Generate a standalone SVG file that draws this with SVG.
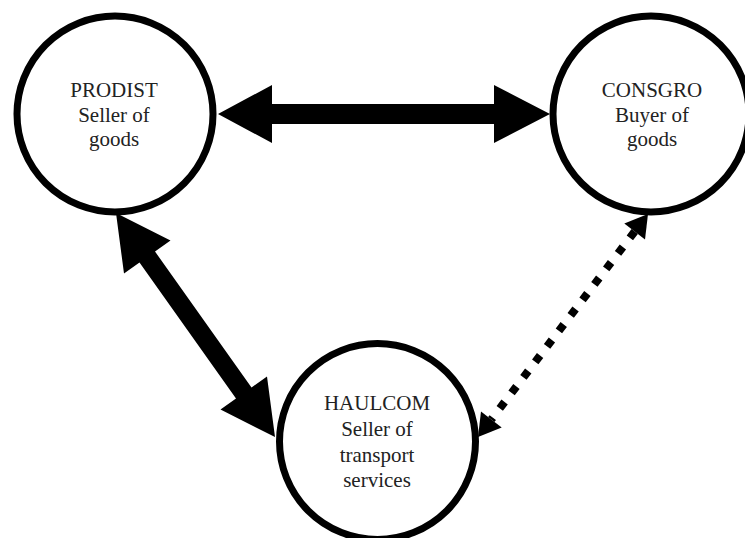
<svg xmlns="http://www.w3.org/2000/svg" width="745" height="538" viewBox="0 0 745 538">
<style>
.node circle{fill:#fff;stroke:#000;stroke-width:7}
.node text{font-size:21px;fill:#222;text-anchor:middle}
.solid{fill:#000;stroke:none}
.dotted{fill:none;stroke:#000;stroke-width:8;stroke-dasharray:8 11.5}
</style>
<rect width="745" height="538" fill="#fff"/>
<g id="connectors">
<polygon class="solid" points="218,114 272,85 272,104 494,104 494,85 550,114 494,143 494,124 272,124 272,143"/>
<polygon class="solid" points="116,213 170.5,240.5 155,251.5 251.5,387.5 267,376.5 275,437 220.5,409.5 236,398.5 139.5,262.5 124,273.5"/>
<line class="dotted" x1="634.7" y1="231.5" x2="491.3" y2="419.5"/>
<polygon class="solid" points="648,214 645,239.4 624.3,223.6"/>
<polygon class="solid" points="478,437 481,411.6 501.7,427.4"/>
</g>
<g id="prodist" class="node" font-family="Liberation Serif, serif">
<circle cx="115" cy="114" r="98"/>
<text x="114" y="97">PRODIST</text>
<text x="114" y="122">Seller of</text>
<text x="114" y="146">goods</text>
</g>
<g id="consgro" class="node" font-family="Liberation Serif, serif">
<circle cx="651" cy="114" r="98"/>
<text x="652" y="97">CONSGRO</text>
<text x="652" y="122">Buyer of</text>
<text x="652" y="146">goods</text>
</g>
<g id="haulcom" class="node" font-family="Liberation Serif, serif">
<circle cx="377.5" cy="441.5" r="98"/>
<text x="377" y="410">HAULCOM</text>
<text x="377" y="436">Seller of</text>
<text x="377" y="461.5">transport</text>
<text x="377" y="487">services</text>
</g>
</svg>
